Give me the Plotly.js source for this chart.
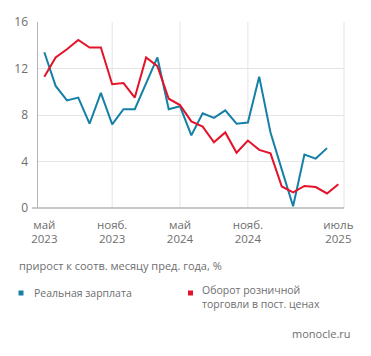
<!DOCTYPE html>
<html><head><meta charset="utf-8">
<script src="https://cdn.plot.ly/plotly-3.0.1.min.js"></script>
<style>html,body{margin:0;padding:0;background:#fff}#c{width:371px;height:356px}</style>
</head><body><div id="c"></div>
<script>
const months = ['2023-05','2023-06','2023-07','2023-08','2023-09','2023-10','2023-11','2023-12',
  '2024-01','2024-02','2024-03','2024-04','2024-05','2024-06','2024-07','2024-08','2024-09','2024-10',
  '2024-11','2024-12','2025-01','2025-02','2025-03','2025-04','2025-05','2025-06','2025-07'];
const realWage = [13.4,10.5,9.25,9.5,7.25,9.9,7.2,8.5,8.5,10.75,12.95,8.5,8.75,6.25,8.15,7.75,8.4,7.25,
  7.35,11.3,6.5,3.3,0.15,4.6,4.25,5.15];
const retail = [11.3,12.95,13.65,14.45,13.8,13.8,10.65,10.75,9.5,12.95,12.2,9.4,8.85,7.45,7.0,5.65,6.5,4.75,
  5.8,5.0,4.7,1.85,1.35,1.9,1.8,1.25,2.05];
const seriesNames = ['Реальная зарплата','Оборот розничной<br>торговли в пост. ценах'];
const tickMonths = ['2023-05','2023-11','2024-05','2024-11','2025-07'];
const tickLabels = ['май<br>2023','нояб.<br>2023','май<br>2024','нояб.<br>2024','июль<br>2025'];
const gridMonths = ['2023-11','2024-05','2024-11'];
const caption = 'прирост к соотв. месяцу пред. года, %';
const source = 'monocle.ru';

const TEAL = '#1580a6', RED = '#e3132a', GRID = '#e4e4e4', AXIS = '#b4b4b4', TXT = '#6e6e6e';
const FONT = 'Open Sans, sans-serif';

const traces = [
  {x: months.slice(0, realWage.length), y: realWage, type: 'scatter', mode: 'lines',
   line: {color: TEAL, width: 2}, name: seriesNames[0], hoverinfo: 'skip'},
  {x: months, y: retail, type: 'scatter', mode: 'lines',
   line: {color: RED, width: 2}, name: seriesNames[1], hoverinfo: 'skip'}
];

const px2x = p => (p - 38) / 306;
const px2y = p => (208 - p) / 186;

const shapes = gridMonths.map(m => ({type: 'line', xref: 'x', yref: 'paper', x0: m, x1: m, y0: 0, y1: 1,
  line: {color: GRID, width: 1}, layer: 'below'}));
shapes.push({type: 'line', xref: 'paper', yref: 'paper', x0: 1, x1: 1, y0: 0, y1: 1,
  line: {color: GRID, width: 1}, layer: 'below'});
shapes.push({type: 'rect', xref: 'paper', yref: 'paper', x0: px2x(18.5), x1: px2x(23.5), y0: px2y(295.5), y1: px2y(290.5),
  fillcolor: TEAL, line: {width: 0}});
shapes.push({type: 'rect', xref: 'paper', yref: 'paper', x0: px2x(188), x1: px2x(193), y0: px2y(295.5), y1: px2y(290.5),
  fillcolor: RED, line: {width: 0}});
shapes.push({type: 'line', xref: 'paper', yref: 'paper', x0: -0.02, x1: 1, y0: 0, y1: 0,
  line: {color: AXIS, width: 1.5}});

const annotations = [
  {text: caption, xref: 'paper', yref: 'paper', x: px2x(17), y: px2y(265), xanchor: 'left', yanchor: 'middle',
   showarrow: false, font: {family: FONT, size: 11, color: TXT}},
  {text: seriesNames[0], xref: 'paper', yref: 'paper', x: px2x(32), y: px2y(293), xanchor: 'left', yanchor: 'middle',
   showarrow: false, font: {family: FONT, size: 10.5, color: TXT}},
  {text: seriesNames[1], xref: 'paper', yref: 'paper', x: px2x(200), y: px2y(297), xanchor: 'left', yanchor: 'middle',
   align: 'left', showarrow: false, font: {family: FONT, size: 10.5, color: TXT}},
  {text: source, xref: 'paper', yref: 'paper', x: px2x(353), y: px2y(334), xanchor: 'right', yanchor: 'middle',
   showarrow: false, font: {family: FONT, size: 11, color: TXT}}
];

const layout = {
  width: 371, height: 356,
  margin: {l: 38, r: 27, t: 22, b: 148},
  paper_bgcolor: '#fff', plot_bgcolor: '#fff',
  showlegend: false,
  font: {family: FONT, size: 12, color: TXT},
  xaxis: {type: 'category', categoryorder: 'array', categoryarray: months,
    range: [-0.56, 26.5], tickvals: tickMonths, ticktext: tickLabels,
    showgrid: false, zeroline: false, showline: false, ticks: '', ticklabelstandoff: 8,
    tickfont: {family: FONT, size: 11.5, color: TXT}},
  yaxis: {range: [0, 16], tickvals: [0, 4, 8, 12, 16], showgrid: true, gridcolor: GRID, gridwidth: 1,
    zeroline: false, showline: true, linecolor: AXIS, linewidth: 1.5, ticks: '', ticklabelstandoff: 6,
    tickfont: {family: FONT, size: 12, color: TXT}},
  shapes: shapes,
  annotations: annotations
};

Plotly.newPlot('c', traces, layout, {staticPlot: true, displayModeBar: false});
</script></body></html>
